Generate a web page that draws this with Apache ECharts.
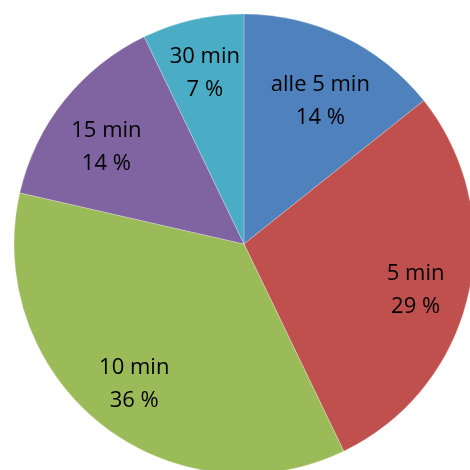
<!DOCTYPE html>
<html>
<head>
<meta charset="utf-8">
<script src="https://cdn.jsdelivr.net/npm/echarts@6/dist/echarts.min.js"></script>
<style>
  html, body { margin: 0; padding: 0; background: #fff; }
  #chart { width: 470px; height: 470px; }
</style>
</head>
<body>
<div id="chart"></div>
<script>
// Intervals and how many entries fall into each
const categories = ['alle 5 min', '5 min', '10 min', '15 min', '30 min'];
const counts = [2, 4, 5, 2, 1];
const colors = ['#4F81BD', '#C0504D', '#9BBB59', '#8064A2', '#4BACC6'];

// small vertical nudges for the in-slice labels (pixels)
const labelNudgeY = [16, 7, 3, 13, 1];

const center = [244, 244];
const outerR = 230;

const sliceData = categories.map((name, i) => ({ name, value: counts[i] }));
const labelData = categories.map((name, i) => ({
  name,
  value: counts[i],
  label: { offset: [0, labelNudgeY[i]] }
}));

const chart = echarts.init(document.getElementById('chart'), null, { renderer: 'canvas' });
chart.setOption({
  animation: false,
  color: colors,
  series: [
    {
      // filled slices
      type: 'pie',
      center: center,
      radius: [0, outerR],
      startAngle: 90,
      clockwise: true,
      silent: true,
      label: { show: false },
      labelLine: { show: false },
      itemStyle: { borderColor: 'rgba(255,255,255,0.5)', borderWidth: 0.5 },
      data: sliceData
    },
    {
      // label ring: same data, invisible fill, labels sit between r0 and r
      type: 'pie',
      center: center,
      radius: [116, outerR],
      startAngle: 90,
      clockwise: true,
      silent: true,
      itemStyle: { color: 'rgba(0,0,0,0)' },
      label: {
        show: true,
        position: 'inside',
        fontFamily: '"Open Sans", "Noto Sans", sans-serif',
        fontSize: 22,
        lineHeight: 33,
        color: '#000',
        formatter: p => p.name + '\n' + Math.round(p.percent) + ' %'
      },
      labelLine: { show: false },
      data: labelData
    }
  ]
});
</script>
</body>
</html>
